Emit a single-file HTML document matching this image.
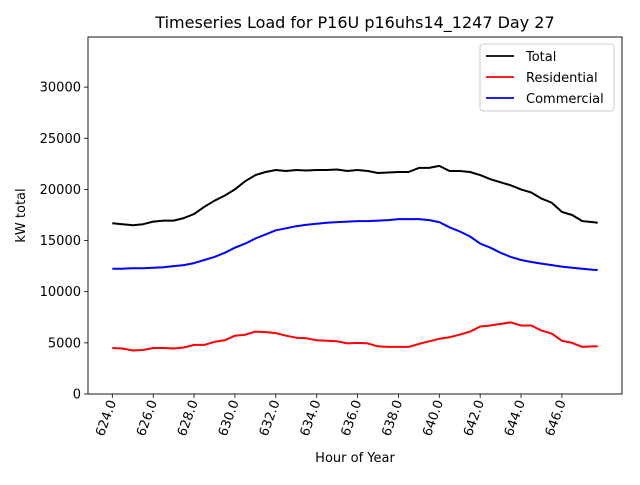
<!DOCTYPE html>
<html><head><meta charset="utf-8"><style>
body{margin:0;background:#fff;font-family:"Liberation Sans","DejaVu Sans",sans-serif}
</style></head><body>
<svg id="c" width="640" height="480" xmlns="http://www.w3.org/2000/svg" font-family="DejaVu Sans, Liberation Sans, sans-serif">
<rect width="640" height="480" fill="#fff"/>
</svg>
<script>
const hours=[624,624.5,625,625.5,626,626.5,627,627.5,628,628.5,629,629.5,630,630.5,631,631.5,632,632.5,633,633.5,634,634.5,635,635.5,636,636.5,637,637.5,638,638.5,639,639.5,640,640.5,641,641.5,642,642.5,643,643.5,644,644.5,645,645.5,646,646.5,647,647.5,647.75];
const totalKW=[16700,16600,16500,16600,16850,16950,16950,17200,17600,18300,18900,19400,20000,20800,21400,21700,21900,21800,21900,21850,21900,21900,21950,21800,21900,21800,21600,21650,21700,21700,22100,22100,22300,21800,21800,21700,21400,21000,20700,20400,20000,19700,19100,18700,17800,17500,16900,16800,16750];
const residentialKW=[4500,4450,4250,4300,4500,4500,4450,4550,4800,4800,5100,5250,5700,5800,6100,6050,5950,5700,5500,5450,5250,5200,5150,4950,5000,4950,4650,4600,4600,4600,4900,5150,5400,5550,5800,6100,6600,6700,6850,7000,6700,6700,6200,5900,5200,5000,4600,4650,4650];
const commercialKW=[12250,12250,12300,12300,12350,12400,12500,12600,12800,13100,13400,13800,14300,14700,15200,15600,16000,16200,16400,16550,16650,16750,16800,16850,16900,16900,16950,17000,17100,17100,17100,17000,16800,16300,15900,15400,14700,14300,13800,13400,13100,12900,12750,12600,12450,12350,12250,12150,12120];
const xTicks=[624,626,628,630,632,634,636,638,640,642,644,646];
const yTicks=[0,5000,10000,15000,20000,25000,30000];
const seriesNames=["Total","Residential","Commercial"];
const seriesColors=["#000000","#ff0000","#0000ff"];

const L=88,R=622,T=37,B=394;
const xMin=622.81,xMax=648.94,yMin=0,yMax=34900;
const X=v=>L+(v-xMin)/(xMax-xMin)*(R-L);
const Y=v=>B-(v-yMin)/(yMax-yMin)*(B-T);
const svg=document.getElementById('c');
const NS="http://www.w3.org/2000/svg";
function mk(tag,attrs,parent){const e=document.createElementNS(NS,tag);for(const k in attrs)e.setAttribute(k,attrs[k]);(parent||svg).appendChild(e);return e;}

const title=mk('text',{x:355,y:28,'text-anchor':'middle','font-size':16,fill:'#000'});


title.textContent="Timeseries Load for P16U p16uhs14_1247  Day 27";

const all=[totalKW,residentialKW,commercialKW];
all.forEach((arr,i)=>{
  const p=mk('polyline',{points:arr.map((v,j)=>X(hours[j]).toFixed(1)+','+Y(v).toFixed(1)).join(' '),fill:'none',stroke:seriesColors[i],'stroke-width':2,'stroke-linejoin':'round'});
  
  
});

const frame=mk('rect',{x:L,y:T,width:R-L,height:B-T,fill:'none',stroke:'#000','stroke-width':0.9});



yTicks.forEach(v=>{
  const y=Y(v);
  mk('line',{x1:L-4,x2:L,y1:y,y2:y,stroke:'#000','stroke-width':0.8});
  const t=mk('text',{x:L-7,y:y+4.5,'text-anchor':'end','font-size':13,fill:'#000'});
  
  
  t.textContent=v;
});
xTicks.forEach(v=>{
  const x=X(v);
  mk('line',{x1:x,x2:x,y1:B,y2:B+4,stroke:'#000','stroke-width':0.8});
  const t=mk('text',{x:x+4,y:B+8,'text-anchor':'end','font-size':13,fill:'#000',transform:`rotate(-70 ${x+4} ${B+8})`});
  
  
  t.textContent=v.toFixed(1);
});

const xt=mk('text',{x:(L+R)/2,y:462,'text-anchor':'middle','font-size':13,fill:'#000'});


xt.textContent="Hour of Year";
const yt=mk('text',{x:25,y:(T+B)/2,'text-anchor':'middle','font-size':13,fill:'#000',transform:`rotate(-90 25 ${(T+B)/2})`});


yt.textContent="kW total";

const lg=mk('g',{});


mk('rect',{x:480,y:44,width:134,height:67,rx:3,fill:'#fff',stroke:'#ccc','stroke-width':1},lg);
seriesNames.forEach((n,i)=>{
  const y=56+i*21;
  const g=mk('g',{},lg);
  
  
  mk('line',{x1:486,x2:514,y1:y,y2:y,stroke:seriesColors[i],'stroke-width':1.8},g);
  const t=mk('text',{x:526,y:y+5,'font-size':13,fill:'#000'},g);
  t.textContent=n;
});
</script>
</body></html>
